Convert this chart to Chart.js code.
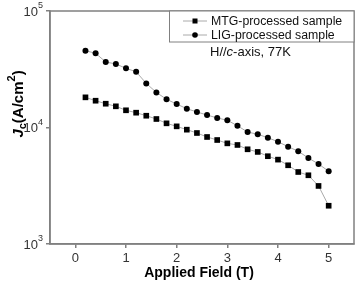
<!DOCTYPE html>
<html>
<head>
<meta charset="utf-8">
<script src="https://cdn.jsdelivr.net/npm/chart.js@4/dist/chart.umd.min.js"></script>
<style>
html,body{margin:0;padding:0;background:#fff;}
#wrap{width:358px;height:282px;position:relative;}
</style>
</head>
<body>
<div id="wrap"><canvas id="c" width="358" height="282"></canvas></div>
<script>
const fields = [0.2,0.4,0.6,0.8,1.0,1.2,1.4,1.6,1.8,2.0,2.2,2.4,2.6,2.8,3.0,3.2,3.4,3.6,3.8,4.0,4.2,4.4,4.6,4.8,5.0];
const mtgJc = [18150,16980,16000,15200,14050,13400,12620,11830,10860,10230,9580,8970,8290,7810,7310,7080,6500,6170,5670,5300,4740,4150,3890,3150,2130];
const ligJc = [45600,43400,36500,35100,32200,30100,23900,20000,17460,15900,14500,13590,12800,12070,11540,10350,9140,8750,8170,7550,6840,6250,5470,4860,4210];
const seriesNames = ['MTG-processed sample','LIG-processed sample'];
const xTicks = [0,1,2,3,4,5];
const yTickExps = [3,4,5];
const xTitle = 'Applied Field (T)';
const annotation = ['H//', 'c', '-axis, 77K'];

const FONT = '"Liberation Sans", Arial, sans-serif';
const AXIS = '#808080';

const toPts = (ys) => fields.map((x,i)=>({x:x,y:ys[i]}));

const decor = {
  id:'decor',
  afterDraw(chart){
    const ctx = chart.ctx, a = chart.chartArea;
    const ys = chart.scales.y;
    ctx.save();
    // frame
    ctx.strokeStyle = AXIS; ctx.lineWidth = 1.5;
    ctx.strokeRect(a.left, a.top, a.right-a.left, a.bottom-a.top);
    // y tick labels 10^n
    ctx.fillStyle = '#333';
    ctx.textBaseline = 'middle';
    yTickExps.forEach(e=>{
      const py = ys.getPixelForValue(Math.pow(10,e));
      ctx.textAlign = 'left';
      ctx.font = '9px ' + FONT;
      const supW = ctx.measureText(String(e)).width;
      ctx.font = '13px ' + FONT;
      const baseW = ctx.measureText('10').width;
      const xEnd = a.left - 7;
      ctx.fillText('10', xEnd - supW - baseW, py + 1);
      ctx.font = '9px ' + FONT;
      ctx.fillText(String(e), xEnd - supW, py - 5);
    });
    // y title
    ctx.save();
    ctx.translate(23, 104);
    ctx.rotate(-Math.PI/2);
    ctx.fillStyle = '#000';
    ctx.textAlign = 'left';
    ctx.textBaseline = 'alphabetic';
    const parts = [
      {t:'J', f:'italic bold 15px '+FONT, dy:0},
      {t:'c', f:'bold 11px '+FONT, dy:3},
      {t:'(A/cm', f:'bold 15px '+FONT, dy:0},
      {t:'2', f:'bold 11px '+FONT, dy:-8},
      {t:')', f:'bold 15px '+FONT, dy:0}
    ];
    let tw = 0;
    parts.forEach(p=>{ctx.font=p.f; p.w=ctx.measureText(p.t).width; tw+=p.w;});
    let cx = -tw/2;
    parts.forEach(p=>{ctx.font=p.f; ctx.fillText(p.t, cx, p.dy); cx+=p.w;});
    ctx.restore();
    // x title
    ctx.font = 'bold 14px ' + FONT;
    ctx.fillStyle = '#000';
    ctx.textAlign = 'center';
    ctx.textBaseline = 'middle';
    ctx.fillText(xTitle, 199, 273);
    // legend box
    const lx = 169, ly = a.top, lw = a.right - 169, lh = 31;
    ctx.fillStyle = '#fff';
    ctx.fillRect(lx, ly, lw, lh);
    ctx.strokeStyle = AXIS; ctx.lineWidth = 1;
    ctx.strokeRect(lx+0.5, ly, lw-0.5, lh);
    const rows = [ly+10, ly+24];
    rows.forEach((ry,i)=>{
      ctx.strokeStyle = '#aaa'; ctx.lineWidth = 1;
      ctx.beginPath(); ctx.moveTo(183, ry); ctx.lineTo(207, ry); ctx.stroke();
      ctx.fillStyle = '#000';
      if(i===0){ ctx.fillRect(192.5, ry-2.5, 5, 5); }
      else { ctx.beginPath(); ctx.arc(195, ry, 2.8, 0, Math.PI*2); ctx.fill(); }
      ctx.font = '12.3px ' + FONT;
      ctx.fillStyle = '#111';
      ctx.textAlign = 'left'; ctx.textBaseline = 'middle';
      ctx.fillText(seriesNames[i], 211, ry+0.5);
    });
    // annotation
    ctx.font = '13px ' + FONT;
    ctx.fillStyle = '#111';
    let ax = 210;
    ctx.fillText(annotation[0], ax, 52); ax += ctx.measureText(annotation[0]).width;
    ctx.font = 'italic 13px ' + FONT;
    ctx.fillText(annotation[1], ax, 52); ax += ctx.measureText(annotation[1]).width;
    ctx.font = '13px ' + FONT;
    ctx.fillText(annotation[2], ax, 52);
    ctx.restore();
  }
};

new Chart(document.getElementById('c'), {
  type:'scatter',
  data:{
    datasets:[
      {label:seriesNames[0], data:toPts(mtgJc), showLine:true, borderColor:'#aaa', borderWidth:1,
       pointStyle:'rect', pointRadius:4, backgroundColor:'#000', pointBorderColor:'#000', pointBorderWidth:0},
      {label:seriesNames[1], data:toPts(ligJc), showLine:true, borderColor:'#aaa', borderWidth:1,
       pointStyle:'circle', pointRadius:3, backgroundColor:'#000', pointBorderColor:'#000', pointBorderWidth:0}
    ]
  },
  options:{
    responsive:false, animation:false, devicePixelRatio:1,
    layout:{padding:{top:11, right:4, left:0, bottom:0}},
    plugins:{legend:{display:false}, tooltip:{enabled:false}},
    scales:{
      x:{
        type:'linear', min:-0.5, max:5.5,
        afterBuildTicks(s){ s.ticks = xTicks.map(v=>({value:v})); },
        afterFit(s){ s.height = 38; },
        grid:{display:true, drawOnChartArea:false, drawTicks:true, tickLength:4, color:AXIS, lineWidth:1.5},
        border:{display:true, color:AXIS, width:1.5},
        ticks:{color:'#333', font:{family:FONT, size:13}, padding:3, maxRotation:0}
      },
      y:{
        type:'logarithmic', min:1000, max:100000,
        afterBuildTicks(s){ s.ticks = yTickExps.map(e=>({value:Math.pow(10,e)})); },
        afterFit(s){ s.width = 50; },
        grid:{display:true, drawOnChartArea:false, drawTicks:true, tickLength:4, color:AXIS, lineWidth:1.5},
        border:{display:true, color:AXIS, width:1.5},
        ticks:{display:false}
      }
    }
  },
  plugins:[decor]
});
</script>
</body>
</html>
